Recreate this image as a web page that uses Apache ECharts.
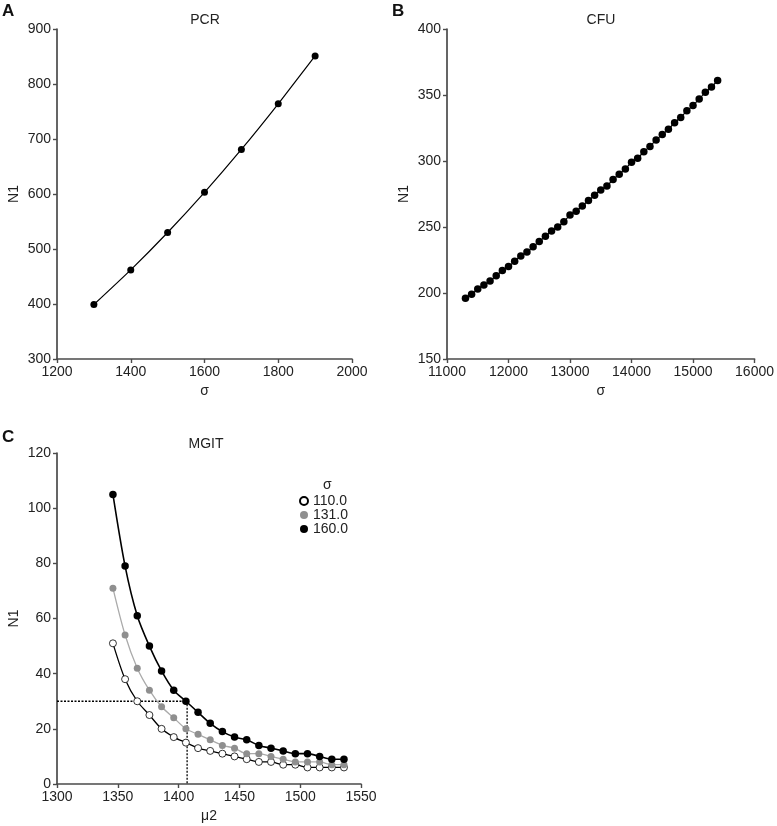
<!DOCTYPE html>
<html>
<head>
<meta charset="utf-8">
<script src="https://cdn.jsdelivr.net/npm/echarts@6/dist/echarts.min.js"></script>
<style>
html,body{margin:0;padding:0;background:#fff;}
#chart{width:777px;height:826px;}
</style>
</head>
<body>
<div id="chart"></div>
<script>
// Panel A: PCR
const pcrSigma = [1300, 1400, 1500, 1600, 1700, 1800, 1900];
const pcrN1 = [399, 462, 530, 603, 681, 764, 851];

// Panel B: CFU
const cfuSigma = [11300,11400,11500,11600,11700,11800,11900,12000,12100,12200,12300,12400,12500,12600,12700,12800,12900,13000,13100,13200,13300,13400,13500,13600,13700,13800,13900,14000,14100,14200,14300,14400,14500,14600,14700,14800,14900,15000,15100,15200,15300,15400];
const cfuN1 = [196,199,203,206,209,213,217,220,224,228,231,235,239,243,247,250,254,259,262,266,270,274,278,281,286,290,294,299,302,307,311,316,320,324,329,333,338,342,347,352,356,361];

// Panel C: MGIT
const mu2 = [1346,1356,1366,1376,1386,1396,1406,1416,1426,1436,1446,1456,1466,1476,1486,1496,1506,1516,1526,1536];
const n1Sigma110 = [51,38,30,25,20,17,15,13,12,11,10,9,8,8,7,7,6,6,6,6];
const n1Sigma131 = [71,54,42,34,28,24,20,18,16,14,13,11,11,10,9,8,8,8,7,7];
const n1Sigma160 = [105,79,61,50,41,34,30,26,22,19,17,16,14,13,12,11,11,10,9,9];
const sigmaLabels = ['110.0', '131.0', '160.0'];
const guideX = 1407, guideY = 30;

// Tick settings
const axisA = {xMin:1200, xMax:2000, xInt:200, yMin:300, yMax:900, yInt:100};
const axisB = {xMin:11000, xMax:16000, xInt:1000, yMin:150, yMax:400, yInt:50};
const axisC = {xMin:1300, xMax:1550, xInt:50, yMin:0, yMax:120, yInt:20};

const FONT = 'Liberation Sans, Arial, Helvetica, sans-serif';
const AX = '#4a4a4a';
const plain = v => String(v);

function xAxis(idx, a, name) {
  return {
    type:'value', gridIndex:idx, min:a.xMin, max:a.xMax, interval:a.xInt,
    name:name, nameLocation:'middle', nameGap:25,
    nameTextStyle:{fontFamily:FONT, fontSize:14, color:'#222'},
    axisLine:{show:true, onZero:false, lineStyle:{color:AX, width:1.7}},
    axisTick:{show:true, length:4, lineStyle:{color:AX, width:1.4}},
    axisLabel:{fontFamily:FONT, fontSize:14, color:'#222', margin:6, formatter:plain},
    splitLine:{show:false}
  };
}
function yAxis(idx, a) {
  return {
    type:'value', gridIndex:idx, min:a.yMin, max:a.yMax, interval:a.yInt,
    name:'N1', nameLocation:'middle', nameGap:36, nameRotate:90,
    nameTextStyle:{fontFamily:FONT, fontSize:14, color:'#222'},
    axisLine:{show:true, onZero:false, lineStyle:{color:AX, width:1.7}},
    axisTick:{show:true, length:4, lineStyle:{color:AX, width:1.4}},
    axisLabel:{fontFamily:FONT, fontSize:14, color:'#222', margin:6, formatter:plain},
    splitLine:{show:false}
  };
}
const zip = (xs, ys) => xs.map((x, i) => [x, ys[i]]);
const letter = (t, l, tp) => ({text:t, left:l, top:tp, padding:0, textStyle:{fontFamily:FONT, fontSize:17, fontWeight:'bold', color:'#111'}});
const ptitle = (t, l, tp) => ({text:t, left:l, textAlign:'center', top:tp, padding:0, textStyle:{fontFamily:FONT, fontSize:14, fontWeight:'normal', color:'#222'}});

const chart = echarts.init(document.getElementById('chart'), null, {renderer:'canvas'});
chart.setOption({
  backgroundColor:'#fff',
  animation:false,
  title:[
    letter('A', 2, 3), letter('B', 392, 3), letter('C', 2, 429),
    ptitle('PCR', 205, 13), ptitle('CFU', 601, 13), ptitle('MGIT', 206, 437)
  ],
  grid:[
    {left:57, top:29, width:295, height:330},
    {left:447, top:29, width:309, height:330},
    {left:57, top:453, width:304, height:331}
  ],
  xAxis:[xAxis(0, axisA, 'σ'), xAxis(1, axisB, 'σ'), xAxis(2, axisC, 'μ2')],
  yAxis:[yAxis(0, axisA), yAxis(1, axisB), yAxis(2, axisC)],
  legend:{
    data:sigmaLabels, orient:'vertical', left:299, top:494,
    itemWidth:8, itemHeight:8, itemGap:0, icon:'circle',
    textStyle:{fontFamily:FONT, fontSize:14, color:'#222', lineHeight:13.5},
    padding:0, selectedMode:false
  },
  graphic:[
    {type:'text', left:323, top:478, style:{text:'σ', font:'14px ' + FONT, fill:'#222'}}
  ],
  series:[
    {type:'line', xAxisIndex:0, yAxisIndex:0, data:zip(pcrSigma, pcrN1), smooth:0.2,
     symbol:'circle', symbolSize:7, itemStyle:{color:'#000'}, lineStyle:{color:'#000', width:1.2}},
    {type:'line', xAxisIndex:1, yAxisIndex:1, data:zip(cfuSigma, cfuN1), smooth:0.2,
     symbol:'circle', symbolSize:7.5, itemStyle:{color:'#000'}, lineStyle:{color:'#000', width:1.2}},
    {type:'line', name:'guide', xAxisIndex:2, yAxisIndex:2, data:[[axisC.xMin, guideY],[guideX, guideY],[guideX, axisC.yMin]],
     symbol:'none', lineStyle:{color:'#000', width:1.3, type:[2,1.5]}, z:1},
    {type:'line', name:sigmaLabels[0], xAxisIndex:2, yAxisIndex:2, data:zip(mu2, n1Sigma110), smooth:0.3,
     symbol:'circle', symbolSize:7, itemStyle:{color:'#fff', borderColor:'#000', borderWidth:0.8},
     lineStyle:{color:'#000', width:1.3}, z:3},
    {type:'line', name:sigmaLabels[1], xAxisIndex:2, yAxisIndex:2, data:zip(mu2, n1Sigma131), smooth:0.3,
     symbol:'circle', symbolSize:7, itemStyle:{color:'#8f8f8f', borderWidth:0},
     lineStyle:{color:'#aaa', width:1.3}, z:4},
    {type:'line', name:sigmaLabels[2], xAxisIndex:2, yAxisIndex:2, data:zip(mu2, n1Sigma160), smooth:0.3,
     symbol:'circle', symbolSize:7.5, itemStyle:{color:'#000'},
     lineStyle:{color:'#000', width:1.6}, z:5}
  ]
});
</script>
</body>
</html>
